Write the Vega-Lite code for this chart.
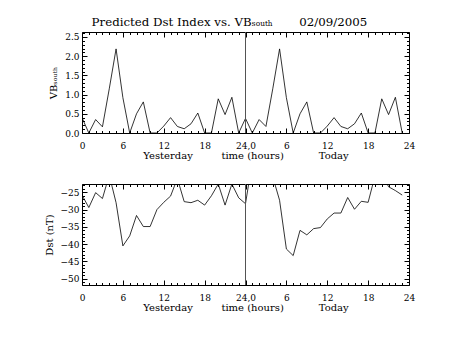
{
  "$schema": "https://vega.github.io/schema/vega-lite/v6.json",
  "background": "white",
  "padding": {"left": 43, "top": 17, "right": 5, "bottom": 5},
  "bounds": "flush",
  "title": {"text": "Predicted Dst Index vs. VBₛₒᵤₜₕ\u00a0\u00a0\u00a0\u00a0\u00a0\u00a0\u00a002/09/2005", "font": "DejaVu Serif", "fontSize": 11.8, "fontWeight": "normal", "color": "black", "anchor": "middle", "offset": 2},
  "config": {
    "view": {"stroke": "black", "strokeWidth": 1},
    "axis": {"labelFont": "DejaVu Serif", "labelFontSize": 9, "labelColor": "black", "titleFont": "DejaVu Serif", "titleFontSize": 10, "titleFontWeight": "normal", "titleColor": "black", "tickColor": "black", "grid": false, "labelFlush": false, "labelOverlap": false}
  },
  "data": {"values": [
    {"h": 0, "vb": 0.40, "dst": -25.8}, {"h": 1, "vb": 0.0, "dst": -29.4}, {"h": 2, "vb": 0.35, "dst": -25.1}, {"h": 3, "vb": 0.16, "dst": -26.8},
    {"h": 4, "vb": 1.15, "dst": -20.0}, {"h": 5, "vb": 2.19, "dst": -28.0}, {"h": 6, "vb": 0.92, "dst": -40.5}, {"h": 7, "vb": 0.0, "dst": -37.6},
    {"h": 8, "vb": 0.50, "dst": -31.7}, {"h": 9, "vb": 0.81, "dst": -34.9}, {"h": 10, "vb": 0.0, "dst": -34.9}, {"h": 11, "vb": 0.0, "dst": -30.0},
    {"h": 12, "vb": 0.18, "dst": -27.9}, {"h": 13, "vb": 0.40, "dst": -26.1}, {"h": 14, "vb": 0.17, "dst": -21.0}, {"h": 15, "vb": 0.11, "dst": -27.7},
    {"h": 16, "vb": 0.24, "dst": -28.0}, {"h": 17, "vb": 0.52, "dst": -27.3}, {"h": 18, "vb": 0.0, "dst": -28.7}, {"h": 19, "vb": 0.0, "dst": -26.0},
    {"h": 20, "vb": 0.89, "dst": -22.6}, {"h": 21, "vb": 0.48, "dst": -28.7}, {"h": 22, "vb": 0.93, "dst": -22.6}, {"h": 23, "vb": 0.0, "dst": -26.6},
    {"h": 24, "vb": 0.38, "dst": -28.3}, {"h": 25, "vb": 0.0, "dst": -16.0}, {"h": 26, "vb": 0.35, "dst": -12.0}, {"h": 27, "vb": 0.17, "dst": -14.0},
    {"h": 28, "vb": 1.15, "dst": -20.5}, {"h": 29, "vb": 2.19, "dst": -27.3}, {"h": 30, "vb": 0.92, "dst": -41.4}, {"h": 31, "vb": 0.0, "dst": -43.3},
    {"h": 32, "vb": 0.50, "dst": -36.0}, {"h": 33, "vb": 0.81, "dst": -37.3}, {"h": 34, "vb": 0.0, "dst": -35.5}, {"h": 35, "vb": 0.0, "dst": -35.2},
    {"h": 36, "vb": 0.18, "dst": -32.7}, {"h": 37, "vb": 0.40, "dst": -31.0}, {"h": 38, "vb": 0.17, "dst": -31.0}, {"h": 39, "vb": 0.11, "dst": -26.5},
    {"h": 40, "vb": 0.24, "dst": -29.9}, {"h": 41, "vb": 0.52, "dst": -27.6}, {"h": 42, "vb": 0.0, "dst": -27.9}, {"h": 43, "vb": 0.0, "dst": -20.3},
    {"h": 44, "vb": 0.89, "dst": -19.4}, {"h": 45, "vb": 0.48, "dst": -23.4}, {"h": 46, "vb": 0.93, "dst": -24.5}, {"h": 47, "vb": 0.0, "dst": -25.8}
  ]},
  "spacing": 51,
  "vconcat": [
    {
      "width": 327, "height": 101,
      "resolve": {"axis": {"x": "independent", "y": "independent"}},
      "layer": [
        {"mark": {"type": "line", "color": "black", "strokeWidth": 0.8, "clip": true},
         "encoding": {
           "x": {"field": "h", "type": "quantitative", "scale": {"domain": [0, 48], "nice": false, "zero": false},
                 "axis": {"orient": "bottom", "values": [0, 6, 12, 18, 24, 30, 36, 42, 48], "labelExpr": "datum.value == 24 ? '24,0' : (datum.value > 24 ? '' + (datum.value - 24) : '' + datum.value)", "ticks": false, "domain": false, "labelPadding": 8, "title": "Yesterday\u00a0\u00a0\u00a0\u00a0\u00a0\u00a0\u00a0\u00a0\u00a0time (hours)\u00a0\u00a0\u00a0\u00a0\u00a0\u00a0\u00a0\u00a0\u00a0\u00a0\u00a0Today", "titlePadding": 0}},
           "y": {"field": "vb", "type": "quantitative", "scale": {"domain": [0, 2.63], "nice": false, "zero": false},
                 "axis": {"orient": "left", "values": [0, 0.5, 1, 1.5, 2, 2.5], "format": ".1f", "ticks": false, "domain": false, "labelPadding": 3, "title": "VBₛₒᵤₜₕ", "titlePadding": 6}}
         }},
        {"mark": {"type": "line", "opacity": 0},
         "encoding": {
           "x": {"field": "h", "type": "quantitative", "axis": {"orient": "bottom", "values": [0, 6, 12, 18, 24, 30, 36, 42, 48], "labels": false, "domain": false, "tickSize": -5, "title": null}},
           "y": {"field": "vb", "type": "quantitative", "axis": {"orient": "left", "values": [0, 0.5, 1, 1.5, 2, 2.5], "labels": false, "domain": false, "tickSize": -5, "title": null}}
         }},
        {"mark": {"type": "line", "opacity": 0},
         "encoding": {
           "x": {"field": "h", "type": "quantitative", "axis": {"orient": "bottom", "values": [1,2,3,4,5,7,8,9,10,11,13,14,15,16,17,19,20,21,22,23,25,26,27,28,29,31,32,33,34,35,37,38,39,40,41,43,44,45,46,47], "labels": false, "domain": false, "tickSize": -2.5, "title": null}},
           "y": {"field": "vb", "type": "quantitative", "axis": {"orient": "left", "values": [0.1,0.2,0.3,0.4,0.6,0.7,0.8,0.9,1.1,1.2,1.3,1.4,1.6,1.7,1.8,1.9,2.1,2.2,2.3,2.4,2.6], "labels": false, "domain": false, "tickSize": -2.5, "title": null}}
         }},
        {"mark": {"type": "line", "opacity": 0},
         "encoding": {
           "x": {"field": "h", "type": "quantitative", "axis": {"orient": "top", "values": [0, 6, 12, 18, 24, 30, 36, 42, 48], "labels": false, "domain": false, "tickSize": -5, "title": null}},
           "y": {"field": "vb", "type": "quantitative", "axis": {"orient": "right", "values": [0, 0.5, 1, 1.5, 2, 2.5], "labels": false, "domain": false, "tickSize": -5, "title": null}}
         }},
        {"mark": {"type": "line", "opacity": 0},
         "encoding": {
           "x": {"field": "h", "type": "quantitative", "axis": {"orient": "top", "values": [1,2,3,4,5,7,8,9,10,11,13,14,15,16,17,19,20,21,22,23,25,26,27,28,29,31,32,33,34,35,37,38,39,40,41,43,44,45,46,47], "labels": false, "domain": false, "tickSize": -2.5, "title": null}},
           "y": {"field": "vb", "type": "quantitative", "axis": {"orient": "right", "values": [0.1,0.2,0.3,0.4,0.6,0.7,0.8,0.9,1.1,1.2,1.3,1.4,1.6,1.7,1.8,1.9,2.1,2.2,2.3,2.4,2.6], "labels": false, "domain": false, "tickSize": -2.5, "title": null}}
         }},
        {"mark": {"type": "rule", "color": "#555555", "strokeWidth": 0.7},
         "encoding": {"x": {"datum": 24, "type": "quantitative", "axis": null}}}
      ]
    },
    {
      "width": 327, "height": 101,
      "resolve": {"axis": {"x": "independent", "y": "independent"}},
      "layer": [
        {"mark": {"type": "line", "color": "black", "strokeWidth": 0.8, "clip": true},
         "encoding": {
           "x": {"field": "h", "type": "quantitative", "scale": {"domain": [0, 48], "nice": false, "zero": false},
                 "axis": {"orient": "bottom", "values": [0, 6, 12, 18, 24, 30, 36, 42, 48], "labelExpr": "datum.value == 24 ? '24,0' : (datum.value > 24 ? '' + (datum.value - 24) : '' + datum.value)", "ticks": false, "domain": false, "labelPadding": 8, "title": "Yesterday\u00a0\u00a0\u00a0\u00a0\u00a0\u00a0\u00a0\u00a0\u00a0time (hours)\u00a0\u00a0\u00a0\u00a0\u00a0\u00a0\u00a0\u00a0\u00a0\u00a0\u00a0Today", "titlePadding": 0}},
           "y": {"field": "dst", "type": "quantitative", "scale": {"domain": [-51.8, -22.6], "nice": false, "zero": false},
                 "axis": {"orient": "left", "values": [-50, -45, -40, -35, -30, -25], "ticks": false, "domain": false, "labelPadding": 3, "title": "Dst (nT)", "titlePadding": 6}}
         }},
        {"mark": {"type": "line", "opacity": 0},
         "encoding": {
           "x": {"field": "h", "type": "quantitative", "axis": {"orient": "bottom", "values": [0, 6, 12, 18, 24, 30, 36, 42, 48], "labels": false, "domain": false, "tickSize": -5, "title": null}},
           "y": {"field": "dst", "type": "quantitative", "axis": {"orient": "left", "values": [-50, -45, -40, -35, -30, -25], "labels": false, "domain": false, "tickSize": -5, "title": null}}
         }},
        {"mark": {"type": "line", "opacity": 0},
         "encoding": {
           "x": {"field": "h", "type": "quantitative", "axis": {"orient": "bottom", "values": [1,2,3,4,5,7,8,9,10,11,13,14,15,16,17,19,20,21,22,23,25,26,27,28,29,31,32,33,34,35,37,38,39,40,41,43,44,45,46,47], "labels": false, "domain": false, "tickSize": -2.5, "title": null}},
           "y": {"field": "dst", "type": "quantitative", "axis": {"orient": "left", "values": [-51,-49,-48,-47,-46,-44,-43,-42,-41,-39,-38,-37,-36,-34,-33,-32,-31,-29,-28,-27,-26,-24,-23], "labels": false, "domain": false, "tickSize": -2.5, "title": null}}
         }},
        {"mark": {"type": "line", "opacity": 0},
         "encoding": {
           "x": {"field": "h", "type": "quantitative", "axis": {"orient": "top", "values": [0, 6, 12, 18, 24, 30, 36, 42, 48], "labels": false, "domain": false, "tickSize": -5, "title": null}},
           "y": {"field": "dst", "type": "quantitative", "axis": {"orient": "right", "values": [-50, -45, -40, -35, -30, -25], "labels": false, "domain": false, "tickSize": -5, "title": null}}
         }},
        {"mark": {"type": "line", "opacity": 0},
         "encoding": {
           "x": {"field": "h", "type": "quantitative", "axis": {"orient": "top", "values": [1,2,3,4,5,7,8,9,10,11,13,14,15,16,17,19,20,21,22,23,25,26,27,28,29,31,32,33,34,35,37,38,39,40,41,43,44,45,46,47], "labels": false, "domain": false, "tickSize": -2.5, "title": null}},
           "y": {"field": "dst", "type": "quantitative", "axis": {"orient": "right", "values": [-51,-49,-48,-47,-46,-44,-43,-42,-41,-39,-38,-37,-36,-34,-33,-32,-31,-29,-28,-27,-26,-24,-23], "labels": false, "domain": false, "tickSize": -2.5, "title": null}}
         }},
        {"mark": {"type": "rule", "color": "#555555", "strokeWidth": 0.7},
         "encoding": {"x": {"datum": 24, "type": "quantitative", "axis": null}}}
      ]
    }
  ]
}
